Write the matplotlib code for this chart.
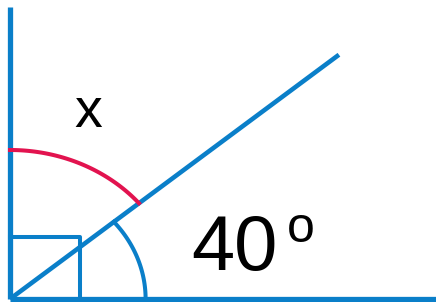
import numpy as np
import matplotlib.pyplot as plt

# geometry of the diagram (units: vertical pixels; picture is stretched sideways)
angle_deg = 40
ray_length = 380
vert_length = 292
base_length = 377
red_radius = 149
blue_radius = 120
square_side = 62
x_stretch = 1.13

angle_label = "40"
degree_label = "o"
unknown_label = "x"

blue = "#0a7fc9"
red = "#e2134f"

fig = plt.figure(figsize=(4.36, 3.02), dpi=100)
ax = fig.add_axes([0, 0, 1, 1])
ax.set_xlim(-10 / x_stretch, 426 / x_stretch)
ax.set_ylim(-3, 299)
ax.axis("off")

t = np.radians(angle_deg)

# axes lines and the ray
ax.plot([0, 0], [0, vert_length], color=blue, lw=3.8, solid_capstyle="butt")
ax.plot([0, base_length], [0, 0], color=blue, lw=3.8, solid_capstyle="butt")
ax.plot([0, ray_length * np.cos(t)], [0, ray_length * np.sin(t)], color=blue, lw=3.3, solid_capstyle="butt")

# right-angle square
ax.plot([0, square_side, square_side], [square_side, square_side, 0], color=blue, lw=2.9)

# arcs
th = np.linspace(t, np.pi / 2, 100)
ax.plot(red_radius * np.cos(th), red_radius * np.sin(th), color=red, lw=2.9)
th = np.linspace(0, t, 100)
ax.plot(blue_radius * np.cos(th), blue_radius * np.sin(th), color=blue, lw=2.9)

# labels
font = ["Liberation Sans", "DejaVu Sans"]
ax.text(69, 172, unknown_label, fontsize=40, ha="center", va="baseline",
        family=font, fontweight="medium")
ax.text(160, 29, angle_label, fontsize=56, ha="left", va="baseline",
        family=font, fontweight="medium")
ax.text(257, 57, degree_label, fontsize=36, ha="center", va="baseline",
        family=font, fontweight="medium")

fig.savefig("out.png", dpi=100)
